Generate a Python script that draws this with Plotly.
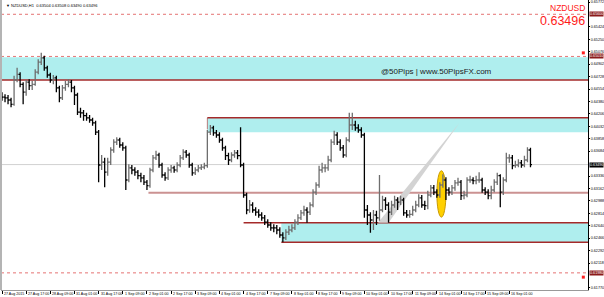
import plotly.graph_objects as go

# ---------------- data (NZDUSD, 2-hour sampling of the H1 chart) ----------------
first_open = 0.6447
closes = [0.6444,0.6443,0.6440,0.6434,0.6468,0.6476,0.6462,0.6451,0.6465,0.6460,
          0.6462,0.6479,0.6493,0.6499,0.6485,0.6475,0.6468,0.6471,0.6457,0.6443,
          0.6457,0.6462,0.6465,0.6457,0.6447,0.6423,0.6422,0.6418,0.6415,0.6412,
          0.6408,0.6395,0.6349,0.6353,0.6339,0.6353,0.6370,0.6381,0.6384,0.6377,
          0.6373,0.6328,0.6345,0.6342,0.6339,0.6334,0.6331,0.6325,0.6320,0.6342,
          0.6359,0.6363,0.6349,0.6335,0.6331,0.6342,0.6345,0.6342,0.6349,0.6359,
          0.6367,0.6363,0.6349,0.6338,0.6342,0.6345,0.6346,0.6348,0.6395,0.6401,
          0.6394,0.6391,0.6384,0.6373,0.6362,0.6356,0.6363,0.6366,0.6362,0.6349,
          0.6307,0.6286,0.6293,0.6286,0.6283,0.6279,0.6275,0.6269,0.6265,0.6261,
          0.6261,0.6258,0.6251,0.6247,0.6255,0.6258,0.6261,0.6269,0.6275,0.6282,
          0.6286,0.6283,0.6293,0.6311,0.6321,0.6342,0.6345,0.6345,0.6356,0.6381,
          0.6391,0.6381,0.6373,0.6363,0.6384,0.6405,0.6405,0.6401,0.6398,0.6391,
          0.6286,0.6279,0.6272,0.6279,0.6275,0.6286,0.6300,0.6293,0.6283,0.6293,
          0.6300,0.6297,0.6300,0.6282,0.6279,0.6280,0.6286,0.6293,0.6303,0.6293,
          0.6292,0.6307,0.6317,0.6311,0.6307,0.6321,0.6328,0.6314,0.6311,0.6317,
          0.6324,0.6325,0.6306,0.6307,0.6328,0.6328,0.6327,0.6328,0.6328,0.6314,
          0.6311,0.6306,0.6314,0.6325,0.6334,0.6311,0.6328,0.6359,0.6359,0.6348,
          0.6349,0.6352,0.6349,0.6356,0.6370,0.63496]
highs = [0.6451,0.6448,0.6447,0.6443,0.6474,0.6485,0.6479,0.6465,0.6468,0.6469,
         0.6467,0.6483,0.6497,0.6506,0.6502,0.6488,0.6478,0.6475,0.6474,0.6460,
         0.6461,0.6467,0.6469,0.6468,0.6460,0.6450,0.6429,0.6426,0.6422,0.6419,
         0.6415,0.6411,0.6398,0.6363,0.6359,0.6359,0.6374,0.6385,0.6388,0.6387,
         0.6381,0.6376,0.6350,0.6349,0.6346,0.6342,0.6338,0.6335,0.6328,0.6345,
         0.6363,0.6369,0.6366,0.6352,0.6339,0.6346,0.6349,0.6348,0.6353,0.6363,
         0.6371,0.6370,0.6366,0.6352,0.6346,0.6349,0.6350,0.6352,0.6398,0.6405,
         0.6404,0.6398,0.6395,0.6387,0.6376,0.6366,0.6367,0.6370,0.6370,0.6402,
         0.6352,0.6310,0.6300,0.6297,0.6290,0.6287,0.6283,0.6279,0.6273,0.6269,
         0.6266,0.6265,0.6262,0.6255,0.6259,0.6264,0.6266,0.6273,0.6280,0.6286,
         0.6292,0.6290,0.6297,0.6315,0.6325,0.6348,0.6352,0.6350,0.6362,0.6385,
         0.6397,0.6395,0.6385,0.6377,0.6388,0.6422,0.6422,0.6411,0.6406,0.6402,
         0.6394,0.6293,0.6283,0.6286,0.6285,0.6335,0.6306,0.6304,0.6297,0.6299,
         0.6306,0.6304,0.6306,0.6303,0.6286,0.6286,0.6292,0.6299,0.6308,0.6307,
         0.6299,0.6313,0.6321,0.6321,0.6315,0.6325,0.6336,0.6332,0.6318,0.6321,
         0.6328,0.6331,0.6328,0.6313,0.6332,0.6334,0.6332,0.6334,0.6339,0.6331,
         0.6318,0.6315,0.6320,0.6329,0.6338,0.6336,0.6332,0.6366,0.6364,0.6363,
         0.6355,0.6357,0.6356,0.6362,0.6374,0.6373]
lows = [0.6439,0.6437,0.6434,0.6430,0.6432,0.6465,0.6458,0.6434,0.6446,0.6454,
        0.6454,0.6460,0.6476,0.6489,0.6481,0.6471,0.6464,0.6462,0.6451,0.6437,
        0.6440,0.6453,0.6458,0.6451,0.6433,0.6419,0.6415,0.6411,0.6411,0.6408,
        0.6404,0.6391,0.6325,0.6342,0.6318,0.6334,0.6349,0.6366,0.6377,0.6373,
        0.6369,0.6314,0.6325,0.6336,0.6334,0.6329,0.6325,0.6321,0.6314,0.6317,
        0.6339,0.6356,0.6345,0.6331,0.6327,0.6328,0.6338,0.6338,0.6339,0.6346,
        0.6356,0.6359,0.6345,0.6334,0.6335,0.6339,0.6342,0.6343,0.6345,0.6391,
        0.6390,0.6387,0.6380,0.6369,0.6356,0.6349,0.6353,0.6359,0.6357,0.6346,
        0.6303,0.6280,0.6282,0.6282,0.6278,0.6275,0.6271,0.6265,0.6261,0.6257,
        0.6255,0.6252,0.6247,0.6241,0.6244,0.6251,0.6255,0.6258,0.6265,0.6272,
        0.6278,0.6268,0.6279,0.6290,0.6307,0.6317,0.6338,0.6339,0.6341,0.6353,
        0.6377,0.6377,0.6369,0.6359,0.6360,0.6381,0.6398,0.6397,0.6394,0.6387,
        0.6275,0.6265,0.6254,0.6258,0.6265,0.6271,0.6283,0.6286,0.6268,0.6279,
        0.6289,0.6286,0.6293,0.6278,0.6275,0.6275,0.6278,0.6283,0.6290,0.6289,
        0.6286,0.6287,0.6304,0.6307,0.6303,0.6303,0.6317,0.6300,0.6306,0.6307,
        0.6313,0.6320,0.6300,0.6301,0.6304,0.6324,0.6322,0.6322,0.6324,0.6310,
        0.6307,0.6301,0.6301,0.6311,0.6321,0.6290,0.6307,0.6325,0.6352,0.6343,
        0.6345,0.6346,0.6345,0.6346,0.6353,0.6346]
opens = [first_open] + closes[:-1]          # each bar opens at the previous close
hours = [2 * i for i in range(len(closes))]  # hour index since 27 Aug 2015 01:00

x_tick_hours = [16 * i for i in range(22)]
x_tick_labels = ["27 Aug 2015", "27 Aug 17:00", "28 Aug 09:00", "31 Aug 01:00", "31 Aug 17:00",
                 "1 Sep 09:00", "2 Sep 01:00", "2 Sep 17:00", "3 Sep 09:00", "4 Sep 01:00",
                 "4 Sep 17:00", "7 Sep 09:00", "8 Sep 01:00", "8 Sep 17:00", "9 Sep 09:00",
                 "10 Sep 01:00", "10 Sep 17:00", "11 Sep 09:00", "14 Sep 01:00", "14 Sep 17:00",
                 "15 Sep 09:00", "16 Sep 01:00"]
y_tick_values = [0.61770, 0.62118, 0.62292, 0.62466, 0.62640, 0.62814, 0.62988,
                 0.63162, 0.63336, 0.63684, 0.63858, 0.64032, 0.64206, 0.64380,
                 0.64554, 0.64728, 0.64902, 0.65076, 0.65250, 0.65424, 0.65772]

# drawn levels / zones
last_price = 0.63496
zone_top = (0.6468, 0.6500)
zone_mid = (0.6395, 0.6415, 136)
level_mid = (0.6310, 97)
zone_low = (0.6241, 0.6268, 185)
level_low_start = 160
dotted_levels = [0.6560, 0.6501, 0.6198]
boxed_levels = [(0.6560, "0.65600"), (0.6501, "0.65010"), (0.6198, "0.61980")]
wedge = [(249, 0.6268), (256, 0.6268), (303, 0.6408)]
ellipse = (288, 294, 0.6276, 0.6341)
alert_hours = [385, 385]
alert_prices = [0.6506, 0.6192]

X_MIN, X_MAX = -0.66, 388.1
Y_MIN, Y_MAX = 0.6174, 0.6580

CYAN = "#AFEEEE"
BROWN = "#A52A2A"

fig = go.Figure()
fig.add_trace(go.Ohlc(
    x=hours, open=opens, high=highs, low=lows, close=closes,
    increasing=dict(line=dict(color="#6e6e6e", width=1.3)),
    decreasing=dict(line=dict(color="#000000", width=1.3)),
    tickwidth=0.5, hoverinfo="skip", showlegend=False))
fig.add_trace(go.Scatter(
    x=alert_hours, y=alert_prices, mode="markers",
    marker=dict(symbol="square", size=3, color="#ff2020"),
    hoverinfo="skip", showlegend=False))

shapes = []
shapes.append(dict(type="rect", xref="x", yref="y", x0=X_MIN, x1=X_MAX, y0=zone_top[0], y1=zone_top[1],
                   fillcolor=CYAN, line=dict(width=0), layer="below"))
shapes.append(dict(type="rect", xref="x", yref="y", x0=zone_mid[2], x1=X_MAX, y0=zone_mid[0], y1=zone_mid[1],
                   fillcolor=CYAN, line=dict(width=0), layer="below"))
shapes.append(dict(type="rect", xref="x", yref="y", x0=zone_low[2], x1=X_MAX, y0=zone_low[0], y1=zone_low[1],
                   fillcolor=CYAN, line=dict(width=0), layer="below"))
shapes.append(dict(type="line", xref="x", yref="y", x0=X_MIN, x1=X_MAX, y0=last_price, y1=last_price,
                   line=dict(color="#d2d2d2", width=1), layer="below"))
for lv in dotted_levels:
    shapes.append(dict(type="line", xref="x", yref="y", x0=X_MIN, x1=X_MAX, y0=lv, y1=lv,
                       line=dict(color="rgba(225,90,90,0.85)", width=1, dash="dot"), layer="below"))
shapes.append(dict(type="line", xref="x", yref="y", x0=X_MIN, x1=X_MAX, y0=zone_top[0], y1=zone_top[0],
                   line=dict(color=BROWN, width=1.5), layer="below"))
shapes.append(dict(type="line", xref="x", yref="y", x0=zone_mid[2], x1=X_MAX, y0=zone_mid[1], y1=zone_mid[1],
                   line=dict(color=BROWN, width=1.5), layer="below"))
shapes.append(dict(type="line", xref="x", yref="y", x0=zone_mid[2], x1=zone_mid[2], y0=zone_mid[0] + 0.0004,
                   y1=zone_mid[1], line=dict(color="rgba(165,42,42,0.6)", width=1), layer="below"))
shapes.append(dict(type="line", xref="x", yref="y", x0=level_mid[1], x1=X_MAX, y0=level_mid[0], y1=level_mid[0],
                   line=dict(color="rgba(185,110,110,0.75)", width=2), layer="below"))
shapes.append(dict(type="line", xref="x", yref="y", x0=level_low_start, x1=X_MAX, y0=zone_low[1], y1=zone_low[1],
                   line=dict(color=BROWN, width=1.5), layer="below"))
shapes.append(dict(type="line", xref="x", yref="y", x0=zone_low[2], x1=X_MAX, y0=zone_low[0], y1=zone_low[0],
                   line=dict(color=BROWN, width=1.5), layer="below"))
path = "M {},{} L {},{} L {},{} Z".format(wedge[0][0], wedge[0][1], wedge[1][0], wedge[1][1],
                                          wedge[2][0], wedge[2][1])
shapes.append(dict(type="path", xref="x", yref="y", path=path, fillcolor="#d3d3d3",
                   line=dict(width=0), layer="below"))
shapes.append(dict(type="circle", xref="x", yref="y", x0=ellipse[0], x1=ellipse[1], y0=ellipse[2], y1=ellipse[3],
                   fillcolor="#FFD000", line=dict(color="#C99A00", width=1), layer="below"))
shapes.append(dict(type="line", xref="paper", yref="paper", x0=0, x1=0, y0=0, y1=1,
                   line=dict(color="#b4b4b4", width=2)))
fig.update_layout(shapes=shapes)

ann = []
ann.append(dict(xref="paper", yref="paper", x=0, y=1, xanchor="left", yanchor="top", xshift=3, yshift=-1,
                text="▼ NZDUSD,H1  0.63504 0.63508 0.63490 0.63496", showarrow=False,
                font=dict(size=4, color="#000000", family="Arial")))
ann.append(dict(xref="paper", yref="paper", x=1, y=1, xanchor="right", yanchor="top", xshift=-1, yshift=-1,
                text="NZDUSD", showarrow=False, font=dict(size=8.5, color="#ff1a1a", family="Arial")))
ann.append(dict(xref="paper", yref="paper", x=1, y=1, xanchor="right", yanchor="top", xshift=-1, yshift=-12,
                text="0.63496", showarrow=False, font=dict(size=12.5, color="#ff1a1a", family="Arial")))
ann.append(dict(xref="x", yref="y", x=250, y=0.6480, xanchor="left", yanchor="middle",
                text="@50Pips | www.50PipsFX.com", showarrow=False,
                font=dict(size=8, color="#1a1a1a", family="Arial")))
for lv, txt in boxed_levels:
    ann.append(dict(xref="paper", yref="y", x=1, y=lv, xanchor="left", yanchor="middle", xshift=1,
                    text=txt, showarrow=False, bgcolor="#8b1a1a", borderpad=0,
                    font=dict(size=3.7, color="#ffffff", family="Arial")))
ann.append(dict(xref="paper", yref="y", x=1, y=last_price, xanchor="left", yanchor="middle", xshift=1,
                text="0.63496", showarrow=False, bgcolor="#000000", borderpad=0,
                font=dict(size=3.7, color="#ffffff", family="Arial")))
# time labels, left-aligned at their tick (MT4 style)
for h, txt in zip(x_tick_hours, x_tick_labels):
    ann.append(dict(xref="x", yref="paper", x=h, y=0, xanchor="left", yanchor="top", xshift=1, yshift=-1,
                    text=txt, showarrow=False, borderpad=0,
                    font=dict(size=3.6, color="#000000", family="Arial")))
fig.update_layout(annotations=ann)

fig.update_layout(
    width=604, height=297,
    margin=dict(l=1, r=16, t=0, b=7, autoexpand=False),
    paper_bgcolor="white", plot_bgcolor="white",
    xaxis=dict(range=[X_MIN, X_MAX], rangeslider=dict(visible=False), showgrid=False, zeroline=False,
               automargin=False,
               tickmode="array", tickvals=x_tick_hours, showticklabels=False,
               ticks="outside", ticklen=3, tickcolor="#000",
               showline=True, linecolor="#999", linewidth=1, fixedrange=True),
    yaxis=dict(range=[Y_MIN, Y_MAX], side="right", showgrid=False, zeroline=False,
               automargin=False,
               tickmode="array", tickvals=y_tick_values,
               ticktext=["{:.5f}".format(v) for v in y_tick_values],
               ticks="outside", ticklen=1, tickcolor="#000", ticklabelstandoff=0,
               tickfont=dict(size=3.7, color="#000", family="Arial"),
               showline=True, linecolor="#000", linewidth=1, fixedrange=True),
)

fig.write_html("out.html")
